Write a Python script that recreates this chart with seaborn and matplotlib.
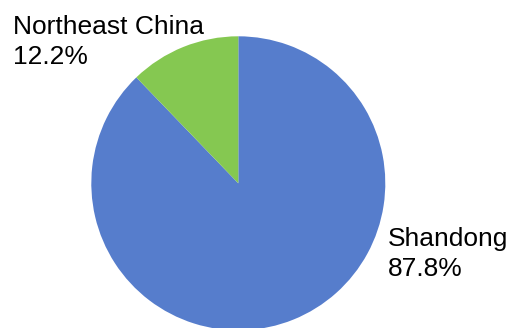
import matplotlib
matplotlib.use("Agg")
import matplotlib.pyplot as plt
import seaborn as sns

regions = ["Shandong", "Northeast China"]
shares = [87.8, 12.2]
colors = ["#567DCC", "#85C851"]

sns.set_style("white")
plt.rcParams["font.family"] = ["Liberation Sans", "DejaVu Sans"]

W, H = 515, 328
fig = plt.figure(figsize=(W / 100, H / 100), dpi=100)
cx, cy, r = 238.3, 183.3, 147.0
ax = fig.add_axes([(cx - r) / W, (H - cy - r) / H, 2 * r / W, 2 * r / H])
ax.pie(shares, colors=colors, startangle=90, counterclock=False,
       radius=1.0, wedgeprops=dict(linewidth=0))
ax.set_xlim(-1, 1)
ax.set_ylim(-1, 1)
ax.set_aspect("equal")
ax.axis("off")
for p in ax.patches:
    p.set_clip_on(False)

label_pos = {"Shandong": (388, 227), "Northeast China": (13, 15)}
for name, val in zip(regions, shares):
    x, y = label_pos[name]
    fig.text(x / W, (H - y) / H, f"{name}\n{val:.1f}%", ha="left", va="top",
             fontsize=19, linespacing=1.33, color="#000000")

fig.savefig("out.png", dpi=100)
